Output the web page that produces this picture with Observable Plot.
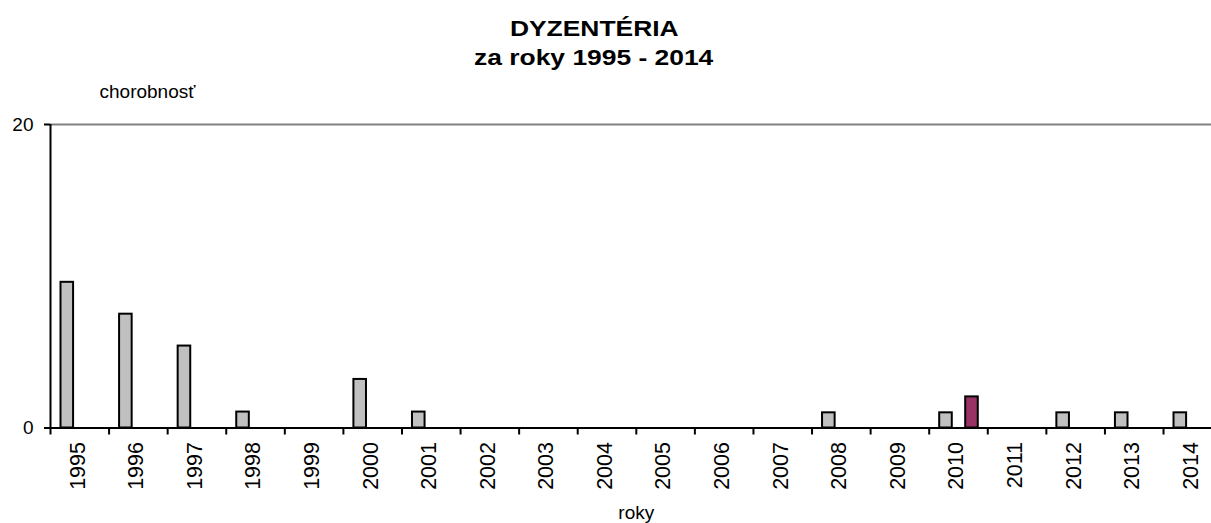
<!DOCTYPE html>
<html>
<head>
<meta charset="utf-8">
<script src="https://cdn.jsdelivr.net/npm/d3@7"></script>
<script src="https://cdn.jsdelivr.net/npm/@observablehq/plot@0.6"></script>
<style>
  html, body { margin: 0; padding: 0; background: #fff; overflow: hidden; }
  #title {
    box-sizing: border-box; width: 1188px; height: 72px; padding-top: 15px;
    font-family: Arial, "Liberation Sans", sans-serif; font-weight: bold;
    font-size: 22px; line-height: 28.7px; text-align: center; color: #000;
  }
  #title span { display: inline-block; transform: scaleX(1.2); }
  #chart svg { display: block; }
</style>
</head>
<body>
<div id="title"><span>DYZENTÉRIA</span><br><span>za roky 1995 - 2014</span></div>
<div id="chart"></div>
<script>
// Data
const years = [1995, 1996, 1997, 1998, 1999, 2000, 2001, 2002, 2003, 2004,
               2005, 2006, 2007, 2008, 2009, 2010, 2011, 2012, 2013, 2014];
const morbidity = [9.6, 7.5, 5.4, 1.05, 0, 3.2, 1.05, 0, 0, 0,
                   0, 0, 0, 1.0, 0, 1.0, 0, 1.0, 1.0, 1.0];
const highlight = [0, 0, 0, 0, 0, 0, 0, 0, 0, 0,
                   0, 0, 0, 0, 0, 2.05, 0, 0, 0, 0];
const yTicks = [0, 20];
const yLabel = "chorobnosť";
const xLabel = "roky";

const rows = years.map((y, i) => ({year: y, value: morbidity[i], hl: highlight[i]}));

const W = 1211, H = 451;
const ml = 50;
const xEnd = 1221.6;  // the reference plot runs past the right edge
const step = (xEnd - ml) / years.length;
const font = 'Arial, "Liberation Sans", sans-serif';

const chart = Plot.plot({
  width: W, height: H,
  marginLeft: ml, marginRight: 0, marginTop: 52, marginBottom: 95.5,
  style: {fontFamily: font, background: "#fff", color: "#000"},
  x: {type: "band", domain: years, range: [ml, xEnd], paddingInner: 0, paddingOuter: 0, align: 0, round: false},
  y: {domain: [0, 20]},
  marks: [
    Plot.ruleY([20], {stroke: "#808080", strokeWidth: 2}),
    Plot.barY(rows.filter(d => d.value > 0), {x: "year", y: "value", fill: "#c0c0c0",
      stroke: "#000", strokeWidth: 2, insetLeft: 10.5, insetRight: 35.5}),
    Plot.barY(rows.filter(d => d.hl > 0), {x: "year", y: "hl", fill: "#993366",
      stroke: "#000", strokeWidth: 2, insetLeft: 36.5, insetRight: 9.5}),
    Plot.ruleY([0], {stroke: "#000", strokeWidth: 2}),
    Plot.ruleX([years[0]], {y1: 0, y2: 20, dx: -step / 2, stroke: "#000", strokeWidth: 2}),
    // category boundary ticks
    Plot.axisX({anchor: "bottom", tickSize: 7, fill: "none", dx: -step / 2,
      stroke: "#000", strokeWidth: 2, label: null}),
    // year labels
    Plot.axisX({anchor: "bottom", tickSize: 0, tickPadding: 14, tickRotate: -90, dx: -2,
      tickFormat: d => String(d), fontSize: 21.5, label: null, fill: "#000"}),
    Plot.axisY({anchor: "left", ticks: yTicks, tickSize: 6, tickPadding: 11,
      fontSize: 19, strokeWidth: 2, label: null, fill: "#000"}),
    Plot.text([yLabel], {frameAnchor: "top-left", textAnchor: "start", lineAnchor: "bottom",
      dx: 49, dy: -27, fontSize: 19, fill: "#000"}),
    Plot.text([xLabel], {frameAnchor: "bottom", lineAnchor: "bottom",
      dx: (ml + xEnd) / 2 - (ml + W) / 2, dy: 91, fontSize: 19, fill: "#000"})
  ]
});
document.getElementById("chart").appendChild(chart);
</script>
</body>
</html>
